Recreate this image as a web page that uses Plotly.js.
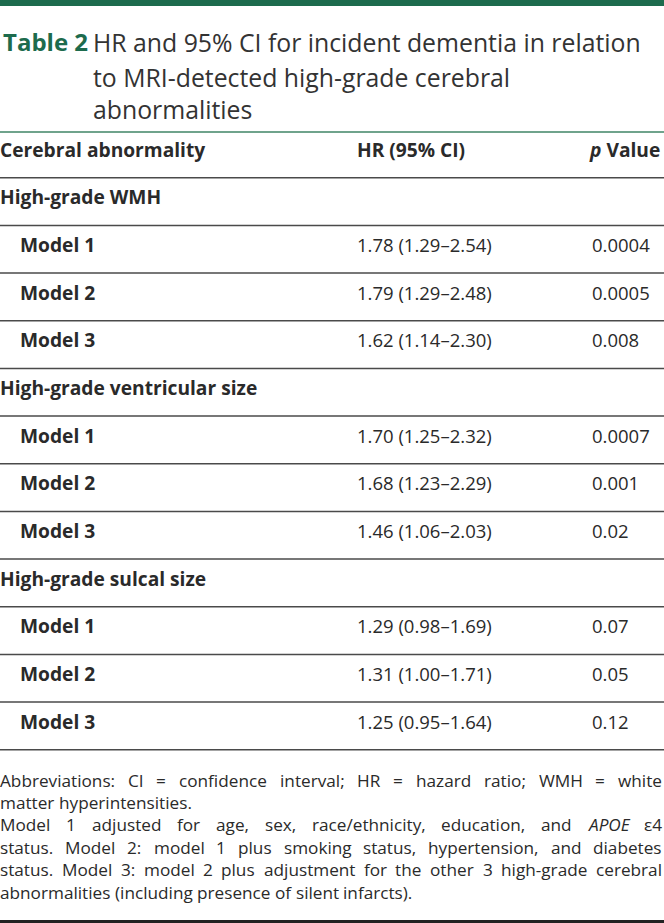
<!DOCTYPE html>
<html>
<head>
<meta charset="utf-8">
<script src="https://cdn.plot.ly/plotly-3.0.1.min.js"></script>
<style>
html,body{margin:0;padding:0;background:#fff;}
#chart{width:664px;height:923px;}
</style>
</head>
<body>
<div id="chart"></div>
<script>
// ---------- data ----------
const tableLabel = "Table 2";
const titleLines = [
  "HR and 95% CI for incident dementia in relation",
  "to MRI-detected high-grade cerebral",
  "abnormalities"
];
const headers = ["Cerebral abnormality", "HR (95% CI)", "<i>p</i> Value"];
const groups = ["High-grade WMH", "High-grade ventricular size", "High-grade sulcal size"];
const models = ["Model 1", "Model 2", "Model 3"];

const hrWMH = [1.78, 1.79, 1.62];
const loWMH = [1.29, 1.29, 1.14];
const hiWMH = [2.54, 2.48, 2.30];
const pWMH  = ["0.0004", "0.0005", "0.008"];

const hrVent = [1.70, 1.68, 1.46];
const loVent = [1.25, 1.23, 1.06];
const hiVent = [2.32, 2.29, 2.03];
const pVent  = ["0.0007", "0.001", "0.02"];

const hrSulc = [1.29, 1.31, 1.25];
const loSulc = [0.98, 1.00, 0.95];
const hiSulc = [1.69, 1.71, 1.64];
const pSulc  = ["0.07", "0.05", "0.12"];

const footParagraphs = [
  ["Abbreviations: CI = confidence interval; HR = hazard ratio; WMH = white",
   "matter hyperintensities."],
  ["Model 1 adjusted for age, sex, race/ethnicity, education, and <i>APOE</i> ε4",
   "status. Model 2: model 1 plus smoking status, hypertension, and diabetes",
   "status. Model 3: model 2 plus adjustment for the other 3 high-grade cerebral",
   "abnormalities (including presence of silent infarcts)."]
];

// ---------- layout constants ----------
const W = 664, H = 923;
const FONT = '"Open Sans", sans-serif';
const TXT = '#2a2a2a';
const GREEN = '#1d6b4d';
const labelSize = 19.2;
const cellSize = 18.5;
const footSize = 17.2;
const footTop = 780, footPitch = 22.4;
const firstRowPx = 152, rowPitch = 47.67;
const colX = {label: 0, indent: 20, hr: 357, p: 592};

const hrSets = [[hrWMH, loWMH, hiWMH, pWMH], [hrVent, loVent, hiVent, pVent], [hrSulc, loSulc, hiSulc, pSulc]];

// build rows
const rowsLabel = {x: [], y: [], text: []};
const rowsVals = {x: [], y: [], text: []};
let r = 0;
rowsLabel.x.push(colX.label); rowsLabel.y.push(r); rowsLabel.text.push('<b>' + headers[0] + '</b>');
rowsLabel.x.push(colX.hr); rowsLabel.y.push(r); rowsLabel.text.push('<b>' + headers[1] + '</b>');
rowsLabel.x.push(colX.p - 2); rowsLabel.y.push(r); rowsLabel.text.push('<b>' + headers[2] + '</b>');
groups.forEach((g, gi) => {
  r++;
  rowsLabel.x.push(colX.label); rowsLabel.y.push(r); rowsLabel.text.push('<b>' + g + '</b>');
  const [hr, lo, hi, p] = hrSets[gi];
  models.forEach((m, mi) => {
    r++;
    rowsLabel.x.push(colX.indent); rowsLabel.y.push(r); rowsLabel.text.push('<b>' + m + '</b>');
    rowsVals.x.push(colX.hr); rowsVals.y.push(r);
    rowsVals.text.push(hr[mi].toFixed(2) + ' (' + lo[mi].toFixed(2) + '–' + hi[mi].toFixed(2) + ')');
    rowsVals.x.push(colX.p); rowsVals.y.push(r); rowsVals.text.push(p[mi]);
  });
});
const nRows = r;

const traces = [
  {type: 'scatter', mode: 'text', x: rowsLabel.x, y: rowsLabel.y, text: rowsLabel.text,
   textposition: 'middle right', textfont: {family: FONT, size: labelSize, color: TXT},
   hoverinfo: 'skip', cliponaxis: false, showlegend: false},
  {type: 'scatter', mode: 'text', x: rowsVals.x, y: rowsVals.y, text: rowsVals.text,
   textposition: 'middle right', textfont: {family: FONT, size: cellSize, color: TXT},
   hoverinfo: 'skip', cliponaxis: false, showlegend: false}
];

const yTop = -firstRowPx / rowPitch;
const yBot = (H - firstRowPx) / rowPitch;

const px2paper = py => 1 - py / H;

const shapes = [];
// top green bar
shapes.push({type: 'rect', xref: 'paper', yref: 'paper', x0: 0, x1: 1, y0: px2paper(6), y1: 1,
  fillcolor: GREEN, line: {width: 0}});
// green rule under title
shapes.push({type: 'line', xref: 'paper', yref: 'paper', x0: 0, x1: 1, y0: px2paper(132), y1: px2paper(132),
  line: {color: '#3f8466', width: 1.6}});
// row separators
for (let k = 0; k <= nRows; k++) {
  shapes.push({type: 'line', xref: 'paper', yref: 'y', x0: 0, x1: 1, y0: k + 0.54, y1: k + 0.54,
    line: {color: '#4a4a4a', width: 1.5}});
}
// bottom dark rule
shapes.push({type: 'line', xref: 'paper', yref: 'paper', x0: 0, x1: 1, y0: px2paper(921.5), y1: px2paper(921.5),
  line: {color: '#222', width: 3}});

const annotations = [];
// title
annotations.push({xref: 'paper', yref: 'paper', x: 3 / W, y: px2paper(42), xanchor: 'left', yanchor: 'middle',
  text: '<b>' + tableLabel + '</b>', showarrow: false, borderpad: 0, borderwidth: 0,
  font: {family: FONT, size: 24, color: GREEN}});
const titleY = [42, 77, 109];
titleLines.forEach((t, i) => {
  annotations.push({xref: 'paper', yref: 'paper', x: 93 / W, y: px2paper(titleY[i]), xanchor: 'left', yanchor: 'middle',
    text: t, showarrow: false, borderpad: 0, borderwidth: 0,
    font: {family: FONT, size: 24.8, color: '#333'}});
});

// footnotes (justified)
const cv = document.createElement('canvas').getContext('2d');
function measure(word) {
  const italic = /^<i>/.test(word);
  const plain = word.replace(/<\/?i>/g, '');
  cv.font = (italic ? 'italic ' : '') + footSize + 'px "Open Sans"';
  return cv.measureText(plain).width;
}
const footLeft = 0, footRight = 662;
let lineIdx = 0;
footParagraphs.forEach(par => {
  par.forEach((line, li) => {
    const py = footTop + footPitch * lineIdx;
    const justify = li < par.length - 1;
    const words = line.split(' ');
    const widths = words.map(measure);
    cv.font = footSize + 'px "Open Sans"';
    const spaceW = cv.measureText(' ').width;
    const total = widths.reduce((a, b) => a + b, 0);
    let gap = justify && words.length > 1 ? (footRight - footLeft - total) / (words.length - 1) : spaceW;
    let x = footLeft;
    words.forEach((w, wi) => {
      annotations.push({xref: 'paper', yref: 'paper', x: x / W, y: px2paper(py), xanchor: 'left', yanchor: 'middle',
        text: w, showarrow: false, borderpad: 0, borderwidth: 0,
        font: {family: FONT, size: footSize, color: TXT}});
      x += widths[wi] + gap;
    });
    lineIdx++;
  });
});

const layout = {
  width: W, height: H,
  margin: {l: 0, r: 0, t: 0, b: 0},
  paper_bgcolor: '#fff', plot_bgcolor: '#fff',
  xaxis: {range: [0, W], visible: false, fixedrange: true},
  yaxis: {range: [yBot, yTop], visible: false, fixedrange: true},
  shapes: shapes,
  annotations: annotations,
  showlegend: false
};

Plotly.newPlot('chart', traces, layout, {staticPlot: true, displayModeBar: false});
</script>
</body>
</html>
